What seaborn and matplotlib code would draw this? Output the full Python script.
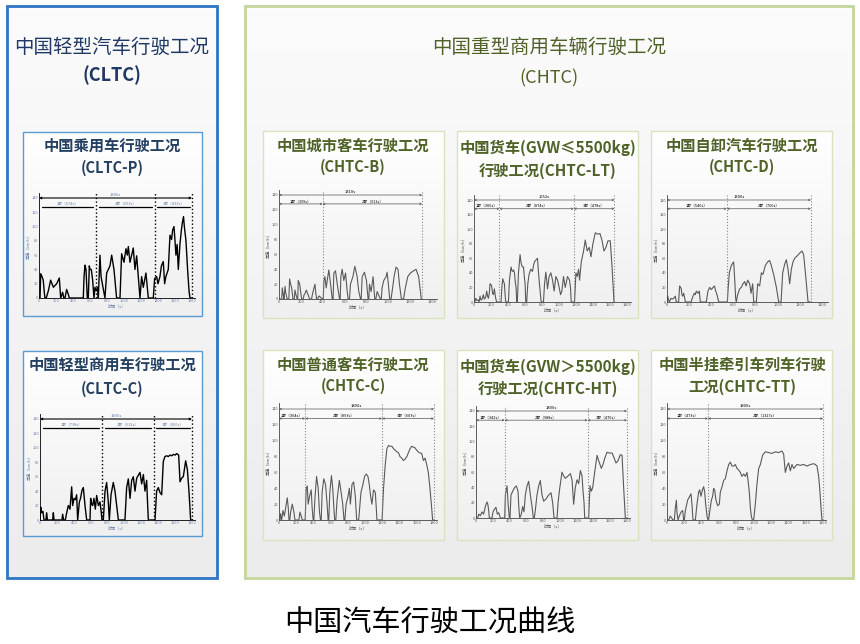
import numpy as np
import pandas as pd
import matplotlib
matplotlib.use("Agg")
import matplotlib.pyplot as plt
import seaborn as sns
from matplotlib.patches import Rectangle
from matplotlib.colors import LinearSegmentedColormap

# ---------------- data (time s, speed km/h) ----------------
CLTC_P = [(0,0),(12,0),(20,34),(35,30),(50,25),(62,8),(70,0),(85,0),(110,10),(137,25),(169,15),(208,20),
          (239,28),(255,0),(278,8),(292,0),(306,0),(325,12),(345,5),(357,0),(521,0),(530,30),(541,46),(553,40),
          (568,0),(580,0),(592,45),(600,40),(615,40),(631,25),(647,0),(658,15),(672,10),(690,15),(698,0),(717,60),
          (730,30),(745,20),(776,0),(796,35),(835,45),(855,60),(882,40),(913,0),(953,0),(972,62),(1000,50),
          (1023,69),(1039,60),(1051,72),(1070,50),(1090,60),(1109,70),(1129,40),(1149,59),(1168,30),(1188,0),
          (1207,30),(1227,15),(1258,35),(1286,0),(1345,0),(1360,27),(1384,30),(1400,20),(1423,30),(1440,45),
          (1462,51),(1478,20),(1493,30),(1521,40),(1541,88),(1560,82),(1572,95),(1588,100),(1600,80),(1611,60),
          (1625,75),(1639,40),(1658,75),(1675,95),(1686,105),(1700,114),(1710,100),(1729,80),(1748,40),
          (1765,10),(1776,0),(1800,0)]
CLTC_P_SEGS = [674, 693, 433]

CLTC_C = [(0,0),(8,18),(20,10),(35,12),(47,0),(70,0),(79,10),(88,0),(150,0),(158,10),(166,0),(260,0),(268,8),
          (280,0),(300,0),(316,10),(335,20),(355,15),(375,46),(387,20),(403,30),(418,28),(434,35),(446,0),
          (466,25),(480,30),(497,41),(513,45),(533,20),(553,0),(592,0),(600,30),(612,22),(624,20),(639,30),
          (655,15),(671,34),(691,20),(710,25),(726,10),(734,0),(750,0),(770,40),(789,52),(809,25),(821,0),
          (841,35),(868,52),(888,40),(908,20),(928,0),(1006,0),(1026,45),(1046,57),(1066,30),(1086,55),
          (1105,60),(1125,40),(1145,58),(1164,62),(1184,66),(1204,50),(1224,63),(1243,40),(1263,55),(1275,20),
          (1283,0),(1362,0),(1381,40),(1401,45),(1421,38),(1441,35),(1460,81),(1480,88),(1500,89),(1520,88),
          (1539,90),(1560,89),(1580,91),(1600,90),(1618,92),(1642,90),(1658,53),(1677,58),(1697,60),(1725,82),
          (1745,70),(1764,40),(1784,0),(1800,0)]
CLTC_C_SEGS = [738, 612, 450]

CHTC_B = [(0,0),(25,0),(30,15),(40,5),(46,0),(55,17),(62,8),(67,5),(75,0),(90,0),(97,27),(106,20),(116,15),
          (128,0),(140,0),(146,12),(155,6),(167,0),(172,0),(176,25),(189,20),(198,10),(207,0),(222,0),(228,5),
          (240,8),(250,12),(260,8),(268,5),(280,0),(298,0),(304,5),(315,12),(329,20),(337,8),(344,0),(355,0),
          (360,3),(370,4),(380,2),(399,0),(405,0),(411,25),(420,30),(432,15),(441,25),(456,39),(472,20),(487,0),
          (495,0),(502,35),(517,38),(533,20),(554,0),(560,0),(566,30),(578,40),(593,25),(609,35),(624,10),
          (633,0),(645,0),(654,20),(665,25),(676,30),(694,44),(715,30),(730,10),(746,0),(752,0),(761,30),
          (782,36),(800,25),(815,0),(822,0),(828,20),(843,10),(861,30),(876,0),(886,0),(898,10),(913,5),(928,0),
          (936,0),(943,15),(959,25),(980,30),(989,36),(1004,15),(1013,0),(1025,0),(1035,10),(1053,30),(1071,43),
          (1089,40),(1102,20),(1120,0),(1140,0),(1156,15),(1178,30),(1202,35),(1232,38),(1254,40),(1278,30),
          (1302,0),(1310,0)]
CHTC_B_SEGS = [399, 911]

CHTC_LT = [(0,0),(10,0),(20,5),(35,2),(51,3),(60,0),(71,8),(80,3),(90,3),(100,6),(110,10),(120,4),(130,5),
           (140,8),(149,15),(160,8),(169,5),(180,12),(189,25),(198,24),(208,22),(218,12),(228,10),(240,18),
           (255,5),(267,0),(318,0),(328,20),(338,32),(348,28),(358,25),(366,10),(373,0),(405,0),(417,30),
           (436,48),(446,43),(456,42),(466,44),(476,40),(488,25),(495,20),(503,0),(510,0),(523,40),(542,65),
           (552,55),(562,50),(572,48),(582,48),(592,35),(601,25),(609,0),(620,0),(633,25),(648,38),(668,45),
           (688,42),(700,50),(711,55),(731,58),(747,60),(756,45),(766,30),(778,15),(790,0),(817,0),(830,25),
           (845,41),(855,30),(865,18),(884,35),(904,40),(924,30),(943,15),(963,35),(983,30),(1002,20),(1018,10),
           (1034,15),(1053,35),(1073,20),(1088,28),(1100,35),(1124,30),(1135,20),(1144,0),(1183,0),(1199,40),
           (1214,35),(1230,45),(1242,30),(1262,55),(1289,70),(1309,85),(1332,70),(1356,75),(1376,62),(1399,80),
           (1427,95),(1458,93),(1482,94),(1505,85),(1529,70),(1552,75),(1576,84),(1603,84),(1623,50),(1640,15),
           (1647,0),(1652,0)]
CHTC_LT_SEGS = [300, 874, 478]

CHTC_D = [(0,0),(6,8),(14,3),(21,0),(36,5),(48,4),(60,5),(75,8),(84,0),(105,0),(114,22),(122,20),(129,18),
          (135,10),(142,8),(151,12),(160,5),(166,0),(217,0),(235,8),(247,12),(256,10),(265,15),(280,12),(292,15),
          (301,0),(355,0),(370,15),(385,20),(400,17),(416,20),(428,22),(440,15),(452,10),(467,0),(545,0),
          (553,20),(563,40),(572,45),(581,50),(592,53),(602,55),(612,30),(620,5),(626,0),(638,10),(656,18),
          (671,20),(686,25),(702,28),(714,22),(729,30),(747,25),(759,12),(774,25),(783,0),(807,0),(819,25),
          (837,22),(852,40),(867,38),(888,50),(909,55),(927,57),(942,50),(963,38),(988,20),(1009,0),(1030,0),
          (1045,40),(1063,52),(1078,58),(1093,45),(1108,25),(1123,45),(1138,55),(1153,60),(1174,63),(1198,67),
          (1219,70),(1234,65),(1250,40),(1265,15),(1274,0),(1300,0)]
CHTC_D_SEGS = [540, 760]

CHTC_C = [(0,0),(12,0),(19,8),(31,0),(46,12),(62,5),(77,15),(96,28),(108,15),(116,0),(125,0),(135,10),
          (154,20),(173,10),(185,0),(231,0),(243,10),(258,5),(270,0),(304,0),(310,20),(316,40),(328,43),
          (339,20),(355,30),(374,38),(385,15),(397,0),(405,0),(416,25),(436,55),(455,40),(470,10),(482,0),
          (490,0),(501,35),(520,52),(540,45),(559,20),(570,0),(578,0),(590,35),(609,56),(624,40),(640,10),
          (647,0),(660,0),(674,25),(701,50),(721,35),(740,20),(755,0),(765,0),(779,20),(802,30),(817,40),
          (829,20),(848,45),(867,48),(886,30),(902,0),(925,0),(952,35),(975,45),(994,55),(1014,58),(1033,55),
          (1048,45),(1064,30),(1079,20),(1098,38),(1118,35),(1130,15),(1137,0),(1197,0),(1214,40),(1233,69),
          (1253,90),(1272,94),(1290,93),(1310,93),(1330,90),(1349,88),(1368,86),(1387,85),(1405,80),(1426,78),
          (1445,75),(1465,77),(1485,80),(1503,85),(1522,90),(1542,93),(1560,92),(1580,91),(1599,88),(1626,85),
          (1657,84),(1677,75),(1696,78),(1715,70),(1734,60),(1753,40),(1773,15),(1784,0),(1800,0)]
CHTC_C_SEGS = [304, 893, 603]

CHTC_HT = [(0,0),(20,0),(32,5),(52,3),(72,8),(91,5),(111,15),(131,21),(141,18),(151,10),(159,0),(191,0),
           (203,8),(223,12),(238,14),(254,5),(270,7),(290,0),(342,0),(350,30),(370,42),(382,20),(397,0),(405,0),
           (417,30),(437,35),(461,40),(481,42),(501,35),(510,15),(521,0),(540,5),(556,15),(572,8),(588,30),
           (608,42),(628,48),(648,30),(668,15),(684,0),(695,0),(707,10),(727,30),(747,42),(767,49),(787,30),
           (807,22),(835,25),(866,30),(894,33),(914,20),(930,0),(966,0),(978,20),(997,38),(1025,60),(1045,55),
           (1065,52),(1097,55),(1125,58),(1145,50),(1164,18),(1184,40),(1204,50),(1224,45),(1244,62),(1264,55),
           (1276,35),(1288,20),(1296,0),(1343,0),(1359,42),(1375,35),(1391,40),(1415,60),(1443,82),(1462,75),
           (1494,65),(1514,70),(1534,78),(1562,86),(1590,85),(1622,85),(1641,80),(1669,72),(1693,75),(1721,83),
           (1741,82),(1760,40),(1780,0),(1800,0)]
CHTC_HT_SEGS = [342, 988, 470]

CHTC_TT = [(0,0),(19,0),(38,5),(50,3),(69,0),(85,0),(96,15),(108,25),(115,10),(127,0),(142,5),(162,10),
           (181,12),(192,0),(200,0),(212,12),(238,25),(262,30),(277,33),(288,20),(300,0),(327,0),(346,20),
           (365,35),(377,38),(392,30),(408,38),(423,42),(435,35),(446,20),(462,5),(473,0),(480,0),(492,10),
           (512,25),(527,30),(538,40),(550,38),(565,25),(585,18),(604,20),(615,35),(635,42),(654,50),(673,52),
           (692,62),(712,70),(731,73),(750,68),(769,68),(788,70),(808,65),(827,63),(846,60),(865,55),(885,58),
           (904,55),(923,60),(935,50),(950,35),(962,15),(973,5),(985,0),(1000,0),(1019,20),(1038,45),(1058,65),
           (1077,70),(1104,82),(1135,86),(1173,85),(1212,84),(1250,86),(1288,85),(1327,87),(1346,83),(1365,60),
           (1385,68),(1404,72),(1423,62),(1442,70),(1462,65),(1500,70),(1540,69),(1577,70),(1615,68),(1654,70),
           (1692,71),(1712,70),(1731,68),(1750,55),(1762,40),(1777,15),(1788,0),(1800,0)]
CHTC_TT_SEGS = [473, 1327]

Y_TICKS = [0, 20, 40, 60, 80, 100, 120, 140]
X_TICKS_1800 = [0, 200, 400, 600, 800, 1000, 1200, 1400, 1600, 1800]
X_TICKS_1400 = [0, 200, 400, 600, 800, 1000, 1200, 1400]

TITLE_CLTC = ["中国轻型汽车行驶工况", "(CLTC)"]
TITLE_CHTC = ["中国重型商用车辆行驶工况", "(CHTC)"]
PANEL_TITLES = {
    "P": ["中国乘用车行驶工况", "(CLTC-P)"],
    "C": ["中国轻型商用车行驶工况", "(CLTC-C)"],
    "B": ["中国城市客车行驶工况", "(CHTC-B)"],
    "LT": ["中国货车(GVW≤5500kg)", "行驶工况(CHTC-LT)"],
    "D": ["中国自卸汽车行驶工况", "(CHTC-D)"],
    "HC": ["中国普通客车行驶工况", "(CHTC-C)"],
    "HT": ["中国货车(GVW＞5500kg)", "行驶工况(CHTC-HT)"],
    "TT": ["中国半挂牵引车列车行驶", "工况(CHTC-TT)"],
}
CAPTION = "中国汽车行驶工况曲线"

# ---------------- style ----------------
sns.set_style("white")
plt.rcParams['font.family'] = ['Noto Sans CJK SC', 'DejaVu Sans']

W, H = 860, 644
fig = plt.figure(figsize=(8.6, 6.44), dpi=100)
fig.patch.set_facecolor('white')
bg = fig.add_axes([0, 0, 1, 1])
bg.axis('off')


def grad_box(x0, y0, x1, y1, c_top, c_bot, edge, lw, z):
    cmap = LinearSegmentedColormap.from_list('g', [c_top, c_bot])
    grad = np.linspace(0, 1, 64).reshape(-1, 1)
    bg.imshow(grad, extent=[x0, x1, y1, y0], cmap=cmap, aspect='auto', zorder=z,
              interpolation='bilinear')
    bg.add_patch(Rectangle((x0, y0), x1 - x0, y1 - y0, fill=False, ec=edge, lw=lw, zorder=z + 0.5))


# big boxes
grad_box(7, 6, 217, 578, '#fbfbfb', '#ececec', '#2e75c4', 2.0, 1)
grad_box(245, 6, 853, 578, '#fbfbfb', '#ececec', '#c3d69b', 2.0, 1)
# left panels
grad_box(23, 132, 202, 316, '#ffffff', '#efefef', '#5b9bd5', 1.0, 2)
grad_box(23, 351, 202, 536, '#ffffff', '#efefef', '#5b9bd5', 1.0, 2)
# right panels
for x0 in (263, 457, 651):
    grad_box(x0, 131, x0 + 181, 318, '#ffffff', '#efefef', '#d7e4bd', 1.0, 2)
    grad_box(x0, 350, x0 + 181, 540, '#ffffff', '#efefef', '#d7e4bd', 1.0, 2)

bg.set_xlim(0, W)
bg.set_ylim(H, 0)

NAVY = '#1f3864'
OLIVE = '#4f6228'


def txt(x, y, s, size, color, weight='normal'):
    bg.text(x, y, s, fontsize=size, color=color, weight=weight, ha='center', va='center', zorder=5)


txt(112, 47, TITLE_CLTC[0], 14, NAVY)
txt(112, 75, TITLE_CLTC[1], 13, NAVY, 'bold')
txt(549, 47, TITLE_CHTC[0], 14, OLIVE)
txt(549, 78, TITLE_CHTC[1], 13, OLIVE)

PANEL_BLUE = '#243f60'
txt(112, 146, PANEL_TITLES["P"][0], 11, PANEL_BLUE, 'bold')
txt(112, 168, PANEL_TITLES["P"][1], 10.5, PANEL_BLUE, 'bold')
txt(112, 365, PANEL_TITLES["C"][0], 11, PANEL_BLUE, 'bold')
txt(112, 389, PANEL_TITLES["C"][1], 10.5, PANEL_BLUE, 'bold')

txt(353, 146, PANEL_TITLES["B"][0], 11, OLIVE, 'bold')
txt(353, 167, PANEL_TITLES["B"][1], 10.5, OLIVE, 'bold')
txt(548, 148, PANEL_TITLES["LT"][0], 11, OLIVE, 'bold')
txt(548, 171, PANEL_TITLES["LT"][1], 11, OLIVE, 'bold')
txt(742, 146, PANEL_TITLES["D"][0], 11, OLIVE, 'bold')
txt(742, 167, PANEL_TITLES["D"][1], 10.5, OLIVE, 'bold')
txt(353, 365, PANEL_TITLES["HC"][0], 11, OLIVE, 'bold')
txt(353, 386, PANEL_TITLES["HC"][1], 10.5, OLIVE, 'bold')
txt(548, 367, PANEL_TITLES["HT"][0], 11, OLIVE, 'bold')
txt(548, 389, PANEL_TITLES["HT"][1], 11, OLIVE, 'bold')
txt(742, 365, PANEL_TITLES["TT"][0], 11, OLIVE, 'bold')
txt(742, 387, PANEL_TITLES["TT"][1], 11, OLIVE, 'bold')

txt(430, 624, CAPTION, 21, 'black')

YMAX = 147


def mini(left, bottom, xref, xref_px, y140_px, xmax, data, segs, xticks, light):
    right = left + (xref_px - left) * xmax / xref
    top = bottom - (bottom - y140_px) * YMAX / 140
    ax = fig.add_axes([left / W, 1 - bottom / H, (right - left) / W, (bottom - top) / H])
    ax.patch.set_alpha(0)
    ax.set_zorder(6)
    df = pd.DataFrame({'t': [p[0] for p in data], 'v': [p[1] for p in data]})
    lc = '#5a5a5a' if light else 'black'
    lw = 0.8 if light else 1.0
    sns.lineplot(data=df, x='t', y='v', ax=ax, color=lc, lw=lw, sort=False, estimator=None)
    ax.set_xlim(0, xmax)
    ax.set_ylim(0, YMAX)
    ax.set_xticks(xticks)
    ax.set_yticks(Y_TICKS)
    tc = '#555555' if light else '#6b7fa8'
    ax.tick_params(labelsize=2.8, length=1.2, width=0.4, pad=0.8, colors=tc, direction='in')
    for s in ('top', 'right'):
        ax.spines[s].set_visible(False)
    sc = '#444444' if light else 'black'
    for s in ('left', 'bottom'):
        ax.spines[s].set_color(sc)
        ax.spines[s].set_linewidth(0.6)
    ax.set_xlabel('时间（s）', fontsize=3, color=tc, labelpad=1)
    ax.set_ylabel('车速（km/h）', fontsize=3, color=tc, labelpad=1)
    total = sum(segs)
    bounds = [0]
    for d in segs:
        bounds.append(bounds[-1] + d)
    dc = '#888888' if light else 'black'
    for b in bounds[1:]:
        ax.axvline(b, color=dc, ls=':', lw=0.8 if light else 1.0)
    ac = '#555555' if light else 'black'
    alw = 0.5 if light else 0.8
    ax.annotate('', xy=(0, 140), xytext=(total, 140),
                arrowprops=dict(arrowstyle='<->', lw=alw, color=ac, mutation_scale=3, shrinkA=0, shrinkB=0))
    ax.text(total / 2, 141, f'{total}s', fontsize=3, ha='center', va='bottom', color='black' if light else tc)
    for i, d in enumerate(segs):
        a, b = bounds[i], bounds[i + 1]
        if light:
            ax.annotate('', xy=(a, 128), xytext=(b, 128),
                        arrowprops=dict(arrowstyle='<->', lw=alw, color=ac, mutation_scale=3,
                                        shrinkA=0, shrinkB=0))
        else:
            pad = d * 0.05
            ax.plot([a + pad, b - pad], [127, 127], color='black', lw=0.9)
        ax.text((a + b) / 2, 129, f'{i + 1}部（{d}s）', fontsize=2.8, ha='center', va='bottom',
                color='black' if light else tc)
    return ax


mini(39, 298, 1800, 192, 198, 1830, CLTC_P, CLTC_P_SEGS, X_TICKS_1800, False)
mini(40, 520, 1800, 192, 419, 1830, CLTC_C, CLTC_C_SEGS, X_TICKS_1800, False)
mini(279, 299, 1400, 432, 195, 1450, CHTC_B, CHTC_B_SEGS, X_TICKS_1400, True)
mini(474, 302, 1800, 627, 200, 1850, CHTC_LT, CHTC_LT_SEGS, X_TICKS_1800, True)
mini(667, 302, 1400, 822, 200, 1450, CHTC_D, CHTC_D_SEGS, X_TICKS_1400, True)
mini(279, 520, 1800, 434, 409, 1830, CHTC_C, CHTC_C_SEGS, X_TICKS_1800, True)
mini(476, 518, 1800, 627, 411, 1830, CHTC_HT, CHTC_HT_SEGS, X_TICKS_1800, True)
mini(667, 520, 1800, 823, 409, 1830, CHTC_TT, CHTC_TT_SEGS, X_TICKS_1800, True)

fig.savefig('out.png', dpi=100, facecolor='white')
